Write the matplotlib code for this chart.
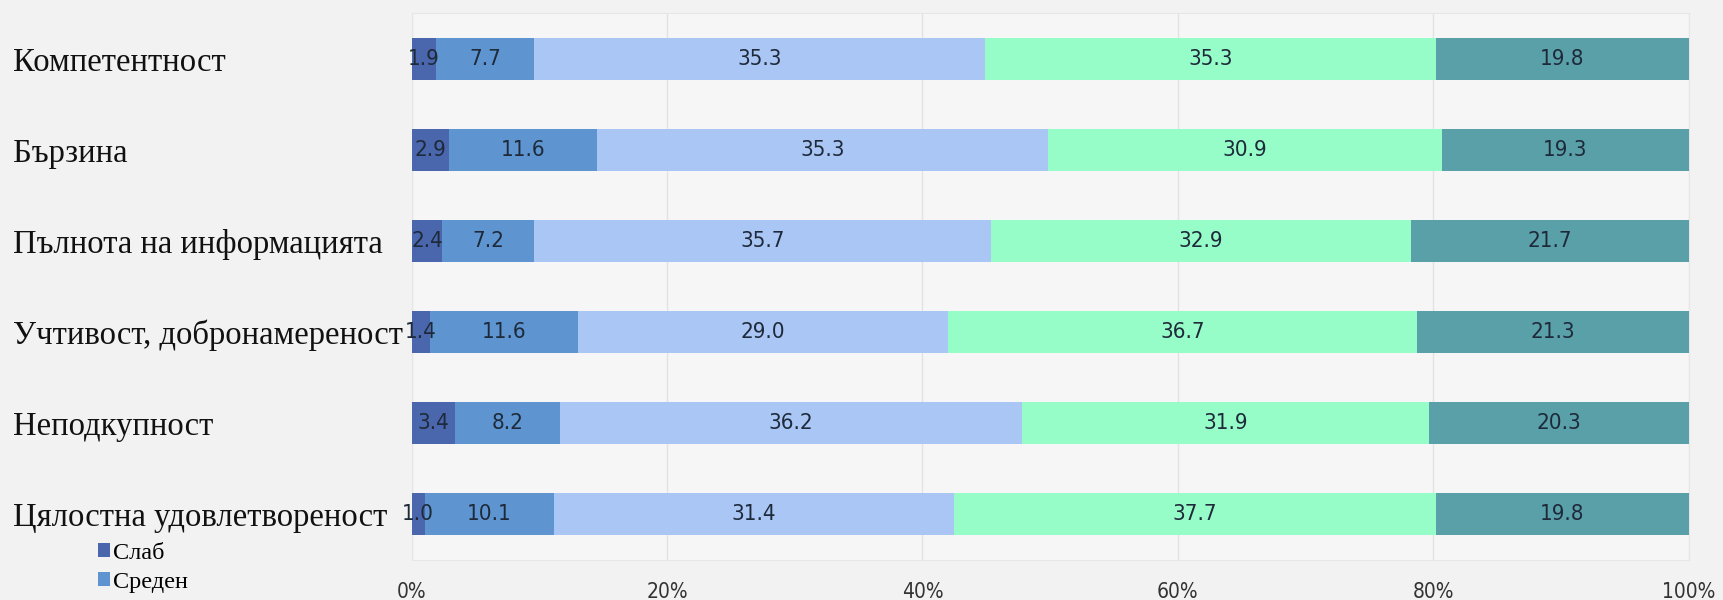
import matplotlib.pyplot as plt
import numpy as np

categories = ["Компетентност", "Бързина", "Пълнота на информацията",
              "Учтивост, добронамереност", "Неподкупност", "Цялостна удовлетвореност"]
series_names = ["Слаб", "Среден", "Добър", "Много добър", "Отличен"]
slab = [1.9, 2.9, 2.4, 1.4, 3.4, 1.0]
sreden = [7.7, 11.6, 7.2, 11.6, 8.2, 10.1]
dobar = [35.3, 35.3, 35.7, 29.0, 36.2, 31.4]
mnogo_dobar = [35.3, 30.9, 32.9, 36.7, 31.9, 37.7]
otlichen = [19.8, 19.3, 21.7, 21.3, 20.3, 19.8]
ticks = [0, 20, 40, 60, 80, 100]
tick_labels = ["0%", "20%", "40%", "60%", "80%", "100%"]

colors = ["#4a66ac", "#5e95d0", "#a9c6f5", "#96fcc8", "#5aa0a8"]

values = np.array([slab, sreden, dobar, mnogo_dobar, otlichen])
totals = values.sum(axis=0)
shares = values / totals * 100

fig = plt.figure(figsize=(17.23, 6), dpi=100, facecolor="#f2f2f2")
ax = fig.add_axes([0.239, 0.0667, 0.741, 0.9113])
ax.set_facecolor("#f6f6f6")

y = np.arange(len(categories))
left = np.zeros(len(categories))
for i, name in enumerate(series_names):
    bars = ax.barh(y, shares[i], left=left, height=0.46, color=colors[i],
                   label=name, zorder=3)
    ax.bar_label(bars, labels=["%.1f" % v for v in values[i]], label_type="center",
                 fontsize=16, color="#1e2a3a", family="DejaVu Sans",
                 fontstretch="condensed", zorder=4)
    left += shares[i]

ax.set_xlim(0, 100)
ax.set_ylim(len(categories) - 0.5, -0.5)
ax.set_xticks(ticks)
ax.set_xticklabels(tick_labels, fontsize=15, color="#333333", family="DejaVu Sans",
                   fontstretch="condensed")
ax.set_yticks(y)
ax.set_yticklabels(categories, fontsize=23.5, family="Liberation Serif", color="#111111",
                   ha="left")
ax.tick_params(axis="y", length=0, pad=287)
ax.tick_params(axis="x", length=0, pad=16)
ax.grid(axis="x", color="#e2e2e2", linewidth=1, zorder=0)
for s in ax.spines.values():
    s.set_color("#e6e6e6")

fig.legend(loc="upper left", bbox_to_anchor=(0.057, 0.095), frameon=False,
           prop={"family": "Liberation Serif", "size": 17.5}, handlelength=0.5,
           handleheight=0.5, handletextpad=0.1, labelspacing=0.32,
           borderpad=0, borderaxespad=0)

fig.savefig("out.png", dpi=100, facecolor=fig.get_facecolor())
